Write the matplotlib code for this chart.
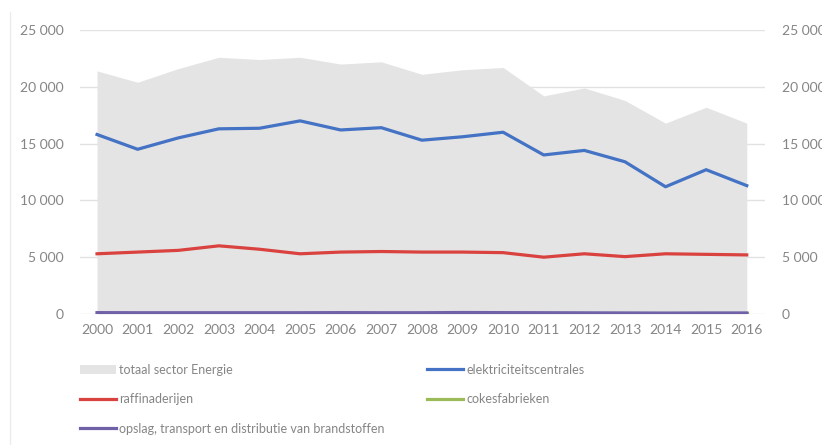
import matplotlib.pyplot as plt
from matplotlib.lines import Line2D
from matplotlib.patches import Patch
from matplotlib.ticker import FuncFormatter

years = list(range(2000, 2017))
totaal = [21400, 20400, 21600, 22600, 22400, 22600, 22000, 22200, 21100, 21500, 21700,
          19200, 19900, 18800, 16800, 18200, 16800]
elektriciteit = [15800, 14500, 15500, 16300, 16350, 17000, 16200, 16400, 15300, 15600, 16000,
                 14000, 14400, 13400, 11200, 12700, 11300]
raffinaderijen = [5300, 5450, 5600, 6000, 5700, 5300, 5450, 5500, 5450, 5450, 5400,
                  5000, 5300, 5050, 5300, 5250, 5200]
cokes = [60, 60, 60, 60, 60, 60, 60, 60, 60, 60, 60, 60, 60, 60, 60, 60, 60]
opslag = [120, 110, 110, 110, 110, 110, 120, 110, 110, 130, 120, 110, 100, 90, 80, 90, 90]

labels = ["totaal sector Energie", "elektriciteitscentrales", "raffinaderijen",
          "cokesfabrieken", "opslag, transport en distributie van brandstoffen"]

plt.rcParams['font.family'] = ['Lato', 'DejaVu Sans']
grey_txt = '#858585'
lw = 2.3
c_tot, c_el, c_raf, c_cok, c_ops = '#e4e4e4', '#4472c4', '#d9423f', '#9bbb59', '#7060a8'

fig = plt.figure(figsize=(8.22, 4.45), dpi=100)
ax = fig.add_axes([0.0973, 0.2944, 0.8334, 0.6382])

ax.fill_between(years, totaal, 0, color=c_tot, linewidth=0, zorder=1)
ax.plot(years, elektriciteit, color=c_el, linewidth=lw, zorder=3)
ax.plot(years, raffinaderijen, color=c_raf, linewidth=lw, zorder=3)
ax.plot(years, cokes, color=c_cok, linewidth=lw, zorder=3)
ax.plot(years, opslag, color=c_ops, linewidth=lw, zorder=4)

ax.set_xlim(1999.58, 2016.45)
ax.set_ylim(0, 25000)
ax.set_yticks(range(0, 25001, 5000))
ax.set_xticks(years)
fmt = FuncFormatter(lambda v, p: f"{int(v):,}".replace(",", " "))
ax.yaxis.set_major_formatter(fmt)
ax.grid(axis='y', color='#e2e2e2', linewidth=1, zorder=0)
ax.set_axisbelow(True)
for s in ax.spines.values():
    s.set_visible(False)
ax.tick_params(axis='both', length=0, labelsize=10, labelcolor=grey_txt)
ax.tick_params(axis='x', pad=7)
ax.tick_params(axis='y', pad=12)

ax2 = ax.twinx()
ax2.set_ylim(0, 25000)
ax2.set_yticks(range(0, 25001, 5000))
ax2.yaxis.set_major_formatter(fmt)
for s in ax2.spines.values():
    s.set_visible(False)
ax2.tick_params(axis='y', length=0, labelsize=10, labelcolor=grey_txt, pad=12)

handles = [Patch(facecolor=c_tot, edgecolor='none'),
           Line2D([], [], color=c_el, linewidth=lw),
           Line2D([], [], color=c_raf, linewidth=lw),
           Line2D([], [], color=c_cok, linewidth=lw),
           Line2D([], [], color=c_ops, linewidth=lw)]

leg_kw = dict(loc='upper left', frameon=False, fontsize=9, labelcolor=grey_txt,
              handlelength=2.9, handletextpad=0.25, labelspacing=1.4,
              borderaxespad=0, borderpad=0)
# left column
fig.legend([handles[0], handles[2], handles[4]], [labels[0], labels[2], labels[4]],
           bbox_to_anchor=(80 / 822, 0.183), **leg_kw)
# right column
fig.legend([handles[1], handles[3]], [labels[1], labels[3]],
           bbox_to_anchor=(427 / 822, 0.183), **leg_kw)

fig.add_artist(Line2D([0.012, 0.012], [0.0, 0.972], color='#ececec', linewidth=1))

fig.savefig('out.png', dpi=100)
